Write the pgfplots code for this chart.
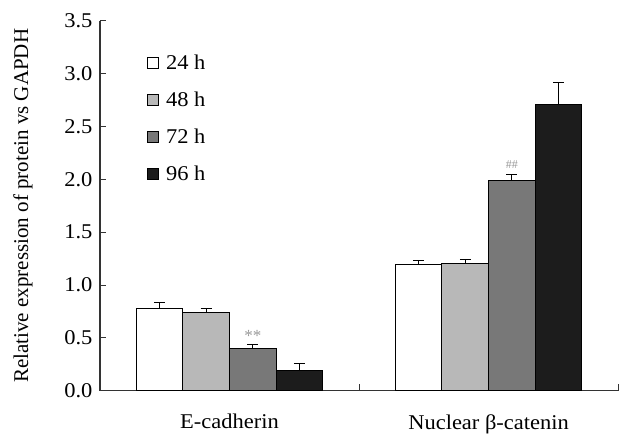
\documentclass[border=0pt]{standalone}
\usepackage{pgfplots}
\pgfplotsset{compat=1.18}
\usepackage{fontspec}
\setmainfont{Liberation Serif}
\newfontfamily\widefont{Liberation Serif}[FakeStretch=1.07]

\definecolor{cLight}{gray}{0.72}
\definecolor{cDark}{gray}{0.47}
\definecolor{cBlack}{gray}{0.11}

\newcommand{\bigf}{\fontsize{21}{25}\selectfont}
\newcommand{\widef}{\widefont\fontsize{21}{25}\selectfont}

\begin{document}
\begin{tikzpicture}
\begin{axis}[
  scale only axis, width=518pt, height=370pt,
  ybar=0pt, bar width=0.18,
  xmin=-0.5, xmax=1.5, ymin=0, ymax=3.5,
  axis lines*=left,
  axis line style={black!80, line width=1.1pt},
  xtick={0,1}, xticklabels={E-cadherin, Nuclear β-catenin},
  major x tick style={draw=none},
  minor xtick={-0.5,0.5,1.5},
  minor tick length=7pt,
  ytick={0,0.5,...,3.5},
  major tick length=6pt,
  tick style={black!80, line width=1pt},
  tick align=inside,
  yticklabel style={xshift=-4pt, /pgf/number format/.cd, fixed, fixed zerofill, precision=1},
  /pgf/number format/assume math mode=true,
  tick label style={font=\widef},
  xticklabel style={yshift=-20pt},
  ylabel={Relative expression of protein vs GAPDH},
  label style={font=\bigf},
  ylabel style={yshift=25pt},
  clip=false,
  legend style={at={(axis cs:-0.318,3.2)}, anchor=north west,
    draw=none, fill=none, font=\widef, row sep=17pt, inner sep=0pt,
    cells={anchor=west},
    /tikz/every odd column/.append style={column sep=5pt}},
  mylegend/.style={legend image code/.code={
    \draw[##1,draw=black,line width=0.8pt] (0pt,-5.5pt) rectangle (11pt,5.5pt);}},
  every axis plot/.append style={draw=black, line width=1pt,
    error bars/y dir=plus, error bars/y explicit,
    error bars/error bar style={black, line width=1pt},
    error bars/error mark options={rotate=90, mark size=5.5pt, black, line width=1pt}},
]

% 24 h
\addplot[fill=white, mylegend] coordinates {
  (0,0.782) +- (0,0.053)
  (1,1.199) +- (0,0.031)};
% 48 h
\addplot[fill=cLight, mylegend] coordinates {
  (0,0.741) +- (0,0.041)
  (1,1.208) +- (0,0.031)};
% 72 h
\addplot[fill=cDark, mylegend] coordinates {
  (0,0.400) +- (0,0.042)
  (1,1.993) +- (0,0.051)};
% 96 h
\addplot[fill=cBlack, mylegend] coordinates {
  (0,0.189) +- (0,0.069)
  (1,2.703) +- (0,0.217)};

\legend{24 h, 48 h, 72 h, 96 h}

% significance marks
\node[font=\fontsize{17}{18}\selectfont, gray!80] at (axis cs:0.09,0.52) {**};
\node[font=\fontsize{12}{13}\selectfont, gray!80] at (axis cs:1.09,2.14) {\#\#};

% keep the page the size of the reference
\path (axis cs:-0.886,-0.40) rectangle (axis cs:1.515,3.696);
\end{axis}
\end{tikzpicture}
\end{document}
